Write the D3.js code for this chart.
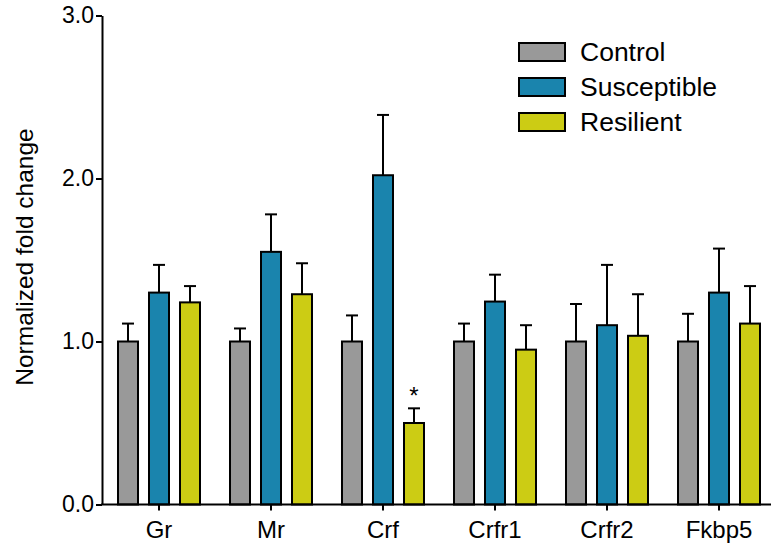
<!DOCTYPE html>
<html>
<head>
<meta charset="utf-8">
<script src="https://cdn.jsdelivr.net/npm/d3@7"></script>
<style>
  body { margin: 0; background: #fff; }
  text { font-family: "Liberation Sans", Arial, sans-serif; fill: #000; }
</style>
</head>
<body>
<div id="chart"></div>
<script>
const width = 771, height = 545;

// data
const genes = ['Gr', 'Mr', 'Crf', 'Crfr1', 'Crfr2', 'Fkbp5'];
const groups = ['Control', 'Susceptible', 'Resilient'];
const controlMean = [1.0, 1.0, 1.0, 1.0, 1.0, 1.0];
const controlErr  = [0.11, 0.08, 0.16, 0.11, 0.23, 0.17];
const suscMean    = [1.30, 1.55, 2.02, 1.245, 1.10, 1.30];
const suscErr     = [0.17, 0.23, 0.37, 0.165, 0.37, 0.27];
const resilMean   = [1.24, 1.29, 0.50, 0.95, 1.035, 1.11];
const resilErr    = [0.10, 0.19, 0.09, 0.15, 0.255, 0.23];
const yTicks = [0, 1, 2, 3];
const starred = [{ gene: 'Crf', group: 'Resilient' }];

const colors = { Control: '#999999', Susceptible: '#1a84ad', Resilient: '#cccc14' };

const means = { Control: controlMean, Susceptible: suscMean, Resilient: resilMean };
const errs = { Control: controlErr, Susceptible: suscErr, Resilient: resilErr };

const data = [];
genes.forEach((g, i) => {
    groups.forEach(s => {
        data.push({ gene: g, group: s, mean: means[s][i], err: errs[s][i] });
    });
});

const axisX = 102;
const xScale = d3.scaleBand().domain(genes).range([103, 775]);
const subScale = d3.scaleBand().domain(groups).range([-46.5, 46.5]);
const yScale = d3.scaleLinear().domain([0, 3]).range([504.5, 15.5]);
const barW = 20;

const svg = d3.select('#chart').append('svg')
    .attr('width', width)
    .attr('height', height);

const cx = d => xScale(d.gene) + xScale.bandwidth() / 2 + subScale(d.group) + subScale.bandwidth() / 2;

// error bars (upper only)
const errG = svg.append('g');
errG.selectAll('.err')
    .data(data)
    .enter().append('line')
    .attr('x1', cx).attr('x2', cx)
    .attr('y1', d => yScale(d.mean))
    .attr('y2', d => yScale(d.mean + d.err))
    .attr('stroke', '#000').attr('stroke-width', 2);
errG.selectAll('.cap')
    .data(data)
    .enter().append('line')
    .attr('x1', d => cx(d) - 6).attr('x2', d => cx(d) + 6)
    .attr('y1', d => yScale(d.mean + d.err))
    .attr('y2', d => yScale(d.mean + d.err))
    .attr('stroke', '#000').attr('stroke-width', 2);

// bars
svg.append('g').selectAll('rect')
    .data(data)
    .enter().append('rect')
    .attr('x', d => cx(d) - barW / 2)
    .attr('y', d => yScale(d.mean))
    .attr('width', barW)
    .attr('height', d => yScale(0) - yScale(d.mean))
    .attr('fill', d => colors[d.group])
    .attr('stroke', '#000')
    .attr('stroke-width', 2);

// significance
svg.append('g').selectAll('text')
    .data(starred)
    .enter().append('text')
    .attr('x', d => cx(d))
    .attr('y', d => {
        const row = data.find(r => r.gene === d.gene && r.group === d.group);
        return yScale(row.mean + row.err) - 4;
    })
    .attr('text-anchor', 'middle')
    .style('font-size', '24px')
    .text('*');

// y axis
const yAxis = svg.append('g')
    .attr('transform', `translate(${axisX},0)`)
    .call(d3.axisLeft(yScale).tickValues(yTicks).tickFormat(d3.format('.1f')).tickSize(6).tickSizeOuter(0).tickPadding(2));
yAxis.select('.domain').attr('stroke-width', 2);
yAxis.selectAll('.tick line').attr('stroke-width', 2);
yAxis.selectAll('.tick text').style('font-size', '23px').attr('fill', '#000');

// x axis
const xAxis = svg.append('g')
    .attr('transform', `translate(0,${yScale(0)})`)
    .call(d3.axisBottom(xScale).tickSize(6).tickSizeOuter(0).tickPadding(10));
xAxis.select('.domain').attr('stroke-width', 2).attr('d', `M${axisX - 1},0H${width}`);
xAxis.selectAll('.tick line').attr('stroke-width', 2);
xAxis.selectAll('.tick text').style('font-size', '24px').attr('fill', '#000');

// y axis title
svg.append('text')
    .attr('transform', 'translate(33,257) rotate(-90)')
    .attr('text-anchor', 'middle')
    .style('font-size', '24.5px')
    .text('Normalized fold change');

// legend
const legend = svg.append('g').attr('transform', 'translate(519,43)');
groups.forEach((s, i) => {
    const row = legend.append('g').attr('transform', `translate(0,${i * 35})`);
    row.append('rect')
        .attr('width', 46).attr('height', 18)
        .attr('fill', colors[s])
        .attr('stroke', '#000').attr('stroke-width', 2);
    row.append('text')
        .attr('x', 61).attr('y', 9)
        .attr('dy', '0.35em')
        .style('font-size', '26.5px')
        .text(s);
});
</script>
</body>
</html>
